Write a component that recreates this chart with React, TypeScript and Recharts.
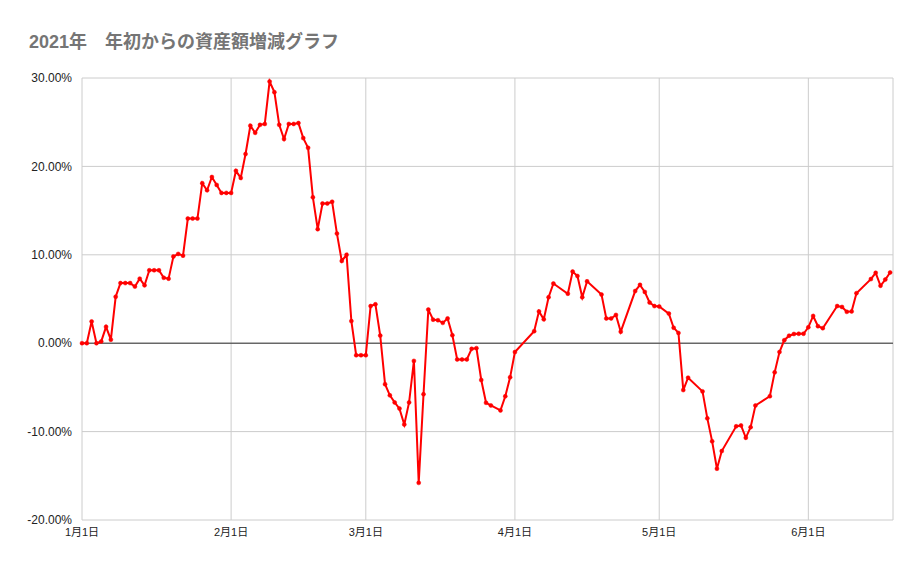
import React from "react"
import { LineChart, Line, XAxis, YAxis, CartesianGrid, ReferenceLine } from "recharts"

if (typeof document !== "undefined") document.body.style.margin = "0"

// days since 1月1日
const days = [
  0, 1, 2, 3, 4, 5, 6, 7, 8, 9, 10, 11, 12, 13, 14, 15, 16, 17, 18, 19, 20, 21, 22, 23, 24, 25, 26, 27, 28, 29, 30,
  31, 32, 33, 34, 35, 36, 37, 38, 39, 40, 41, 42, 43, 44, 45, 46, 47, 48, 49, 50, 51, 52, 53, 54, 55, 56, 57, 58,
  59, 60, 61, 62, 63, 64, 65, 66, 67, 68, 69, 70, 71, 72, 73, 74, 75, 76, 77, 78, 79, 80, 81, 82, 83, 84, 85, 87, 88, 89,
  90, 94, 95, 96, 97, 98, 101, 102, 103, 104, 105, 108, 109, 110, 111, 112, 115, 116, 117, 118, 119,
  120, 122, 123, 124, 125, 126, 129, 130, 131, 132, 133, 136, 137, 138, 139, 140, 143, 144, 145, 146, 147, 148, 149, 150,
  151, 152, 153, 154, 157, 158, 159, 160, 161, 164, 165, 166, 167, 168,
]

// 増減率 (%)
const values = [
  0, 0, 2.46, 0, 0.2, 1.85, 0.4, 5.25, 6.8, 6.8, 6.8, 6.4, 7.3, 6.55, 8.25, 8.25, 8.25, 7.4, 7.3, 9.8, 10.1, 9.9, 14.1, 14.1, 14.1, 18.1, 17.3, 18.8, 17.9, 17.0, 17.0,
  17.0, 19.5, 18.7, 21.4, 24.6, 23.8, 24.7, 24.8, 29.6, 28.4, 24.7, 23.1, 24.8, 24.8, 24.9, 23.2, 22.1, 16.5, 12.9, 15.8, 15.8, 16.0, 12.4, 9.3, 10.0, 2.5, -1.36, -1.36,
  -1.36, 4.2, 4.4, 0.86, -4.64, -5.9, -6.7, -7.4, -9.2, -6.7, -2.0, -15.8, -5.77, 3.8, 2.66, 2.6, 2.3, 2.8, 0.9, -1.84, -1.84, -1.84, -0.64, -0.56, -4.16, -6.74, -7.04, -7.6, -6.0, -3.86,
  -1.0, 1.36, 3.6, 2.7, 5.2, 6.75, 5.6, 8.1, 7.6, 5.2, 7.0, 5.5, 2.8, 2.8, 3.2, 1.3, 5.9, 6.6, 5.8, 4.6, 4.2,
  4.15, 3.35, 1.75, 1.16, -5.3, -3.9, -5.45, -8.5, -11.1, -14.2, -12.2, -9.4, -9.3, -10.7, -9.5, -7.05, -6.0, -3.3, -1.0, 0.34, 0.85, 1.04, 1.07, 1.07,
  1.8, 3.08, 1.92, 1.7, 4.2, 4.1, 3.55, 3.6, 5.66, 7.25, 7.96, 6.5, 7.2, 8.0,
]

const monthTicks = [0, 31, 59, 90, 120, 151]
const monthLabels = ["1月1日", "2月1日", "3月1日", "4月1日", "5月1日", "6月1日"]
const yTicks = [-20, -10, 0, 10, 20, 30]

const data = days.map((d, i) => ({ day: d, value: values[i] }))

const font = "Arial, 'Liberation Sans', 'Noto Sans CJK JP', sans-serif"

export default function App() {
  return (
    <div style={{ position: "relative", width: 921, height: 569, background: "#fff", fontFamily: font }}>
      <div
        style={{
          position: "absolute",
          left: 29,
          top: 27,
          fontSize: 18,
          fontWeight: "bold",
          color: "#757575",
          fontFamily: font,
          whiteSpace: "pre",
        }}
      >
        2021年　年初からの資産額増減グラフ
      </div>
      <LineChart width={921} height={569} data={data} margin={{ top: 78, right: 28, bottom: 29, left: 0 }}>
        <CartesianGrid stroke="#cccccc" strokeWidth={1} />
        <XAxis
          dataKey="day"
          type="number"
          domain={[0, 168.6]}
          ticks={monthTicks}
          tickFormatter={(v) => monthLabels[monthTicks.indexOf(v)]}
          axisLine={false}
          tickLine={false}
          height={20}
          tick={{ fontSize: 11, fill: "#222", fontFamily: font }}
        />
        <YAxis
          type="number"
          domain={[-20, 30]}
          ticks={yTicks}
          tickFormatter={(v) => `${v.toFixed(2)}%`}
          axisLine={false}
          tickLine={false}
          width={82}
          tickMargin={4}
          tick={{ fontSize: 12, fill: "#222", fontFamily: font }}
        />
        <ReferenceLine y={0} stroke="#333" strokeWidth={1} />
        <Line
          dataKey="value"
          stroke="#ff0000"
          strokeWidth={2}
          dot={{ r: 2, fill: "#ff0000", stroke: "#ff0000", strokeWidth: 0.5 }}
          isAnimationActive={false}
        />
      </LineChart>
    </div>
  )
}
